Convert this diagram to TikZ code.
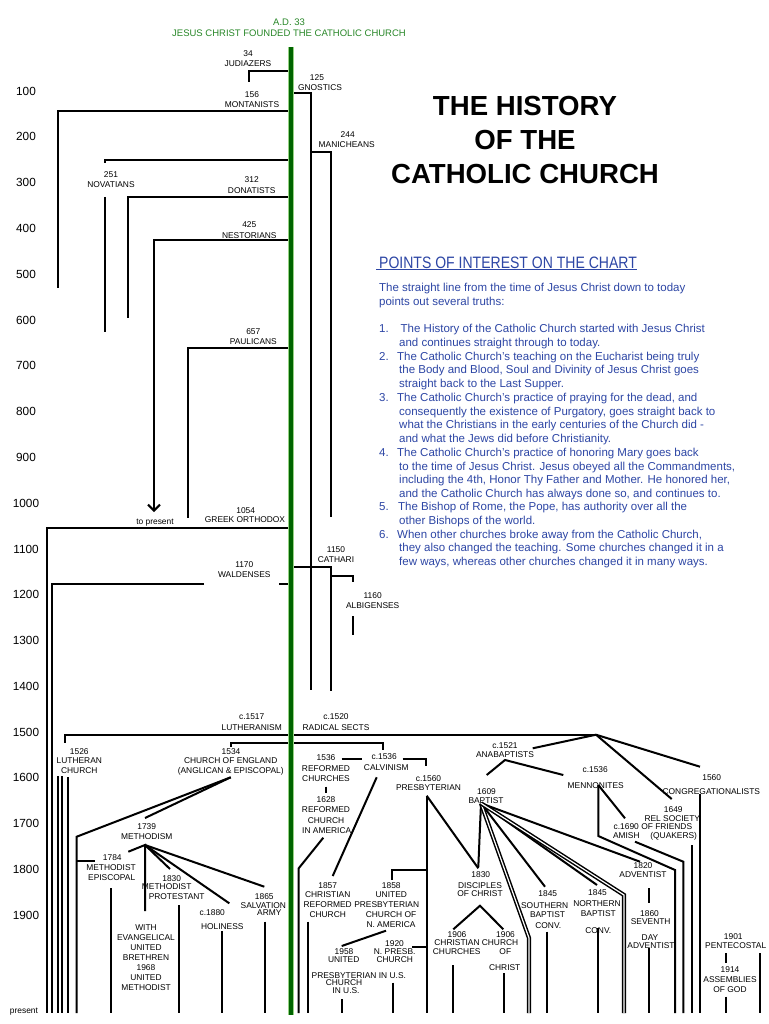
\documentclass[tikz,border=0pt]{standalone}
\usepackage{fontspec}
\setmainfont{Liberation Sans}
\usetikzlibrary{arrows.meta}
\definecolor{cgreen}{RGB}{0,100,0}
\definecolor{lgreen}{RGB}{150,210,130}
\definecolor{hgreen}{RGB}{40,135,40}
\definecolor{tblue}{RGB}{45,70,165}
\newcommand\CL[4]{\node[lb] (#1) at (#2,#3) {#4};}
\newcommand\BT[4]{\node[bt] (#1) at (#2,#3) {#4};}
\begin{document}
\begin{tikzpicture}[x=1pt,y=-1pt,
  lb/.style={font=\fontsize{8.4}{10}\selectfont, inner sep=0pt, anchor=base, yshift=-3pt},
  bt/.style={font=\fontsize{11.5}{13}\selectfont, text=tblue, inner sep=0pt, anchor=base west, yshift=-4pt},
  hd/.style={font=\fontsize{9.5}{11}\selectfont, text=hgreen, inner sep=0pt, anchor=base, yshift=-3.4pt},
  ax/.style={font=\fontsize{11.8}{13}\selectfont, inner sep=0pt, anchor=base, yshift=-4.2pt},
  ttl/.style={font=\fontsize{27.6}{30}\selectfont\bfseries, inner sep=0pt, anchor=base},
  ln/.style={line width=2pt},
  dbl/.style={double, double distance=1.2pt, line width=1.5pt}]
\useasboundingbox[fill=white] (0,0) rectangle (768,1024);

% ---------- header ----------
\node[hd] (ad) at (289,21.7) {A.D. 33};
\node[hd] (jc) at (289,32.7) {JESUS CHRIST FOUNDED THE CATHOLIC CHURCH};

% ---------- axis ----------
\foreach \yr [count=\i] in {100,200,...,1900}
  \node[ax] (yr\i) at (26,{91+45.78*(\i-1)}) {\yr};
\node[lb, yshift=-2.5pt] (present) at (24,1008) {present};

% ---------- title ----------
\node[ttl] (t1) at (525,116) {THE HISTORY};
\node[ttl] (t2) at (525,150) {OF THE};
\node[ttl] (t3) at (525,184) {CATHOLIC CHURCH};

% ---------- blue text ----------
\node[font=\fontsize{16.5}{18}\selectfont, text=tblue, inner sep=0pt, anchor=base west] (poi) at (379,268) {\scalebox{0.85}[1]{POINTS OF INTEREST ON THE CHART}};
\draw[tblue, line width=1.2pt] (376,269.8) -- (637,269.8);
\BT{b1}{379}{287}{The straight line from the time of Jesus Christ down to today}
\BT{b2}{379}{301}{points out several truths:}
\BT{n1}{379}{328}{1.}
\BT{b3}{400.5}{328}{The History of the Catholic Church started with Jesus Christ}
\BT{b4}{399}{342}{and continues straight through to today.}
\BT{n2}{379}{356}{2.}
\BT{b5}{397}{356}{The Catholic Church's teaching on the Eucharist being truly}
\BT{b6}{399}{369}{the Body and Blood, Soul and Divinity of Jesus Christ goes}
\BT{b7}{399}{383}{straight back to the Last Supper.}
\BT{n3}{379}{397}{3.}
\BT{b8}{397}{397}{The Catholic Church's practice of praying for the dead, and}
\BT{b9}{399}{411}{consequently the existence of Purgatory, goes straight back to}
\BT{b10}{399}{424}{what the Christians in the early centuries of the Church did -}
\BT{b11}{399}{438}{and what the Jews did before Christianity.}
\BT{n4}{379}{452}{4.}
\BT{b12}{397}{452}{The Catholic Church's practice of honoring Mary goes back}
\BT{b13}{399}{466}{to the time of Jesus Christ. Jesus obeyed all the Commandments,}
\BT{b14}{399}{479}{including the 4th, Honor Thy Father and Mother. He honored her,}
\BT{b15}{399}{493}{and the Catholic Church has always done so, and continues to.}
\BT{n5}{379}{506}{5.}
\BT{b16}{398}{506}{The Bishop of Rome, the Pope, has authority over all the}
\BT{b17}{399}{520}{other Bishops of the world.}
\BT{n6}{379}{534}{6.}
\BT{b18}{397}{534}{When other churches broke away from the Catholic Church,}
\BT{b19}{399}{547}{they also changed the teaching. Some churches changed it in a}
\BT{b20}{399}{561}{few ways, whereas other churches changed it in many ways.}

% ---------- early branches ----------
\begin{scope}[ln]
\draw (291,70.7) -| (249.3,82);
\draw (291,93) -| (310.7,690);
\draw (291,110.7) -| (58,288);
\draw (310.7,151.7) -| (330.7,517);
\draw (291,160) -| (105,163.5);
\draw (105,197) -- (105,332);
\draw (291,196.7) -| (128,318);
\draw[-{Straight Barb[length=6pt,width=12pt]}] (291,240) -| (154,512);
\draw (291,348) -| (188,518);
\draw (291,528) -| (47,1013);
\draw (291,567.3) -| (330.7,690.7);
\draw (330.7,575.7) -| (352.7,582.3);
\draw (352.7,616) -- (352.7,635);
\draw (204,583.7) -| (52,1013);
\draw (279,583.7) -- (291,583.7);
% reformation
\draw (596,734.7) -| (65,742.7);
\draw (230.7,747) |- (383.3,742.7) -- (383.3,750);
\draw (58.3,776) -- (58.3,1013);
\draw (61.7,776) -- (61.7,1013);
\draw (68.3,777) -- (68.3,1013);
\draw (230.7,777.3) -- (76.7,836.7) -- (76.7,1013);
\draw (230.7,777.3) -- (145,818);
\draw (76.7,861) -- (95,861);
\draw (128.3,851.7) -- (145,845) -- (145,911);
\draw (145,845) -- (170,869);
\draw (145,845) -- (229.3,903.3);
\draw (145,845) -- (264.3,886.7);
\draw (111,888.3) -- (111,1013);
\draw (179,905) -- (179,1013);
\draw (221.7,931) -- (221.7,1013);
\draw (265,921.7) -- (265,1013);
% reformed / presbyterian
\draw (341.7,759.3) -- (361.7,759.3);
\draw (402.7,759.3) -| (425.7,765.7);
\draw (326,786.7) -- (326,792.7);
\draw (323.3,837.7) -- (298.7,868.3) -- (298.7,1013);
\draw (376.7,777.3) -- (332.7,876);
\draw (307.7,921.7) -- (307.7,1013);
\draw (426.7,795.7) -- (426.7,1013);
\draw (426.7,795.7) -- (478.3,868.3);
\draw (426.7,870) -| (391.7,880);
\draw (386,930.7) -- (341.7,946);
\draw (426.7,947.3) -- (411.7,947.3);
\draw (393.3,982.7) -- (393.3,1013);
\draw (341.7,999.3) -- (341.7,1013);
% disciples
\draw (481,803.3) -- (478.3,867);
\draw (453.3,929.3) -- (480,905.7) -- (503.3,929.3);
\draw (452.7,965) -- (452.7,1013);
\draw (504,973.3) -- (504,1013);
% baptist
\draw (481,803.3) -- (545,886.7);
\draw (546.7,931.7) -- (546.7,1013);
\draw (481,803.3) -- (597,885);
\draw (481,803.3) -- (640,861.7);
\draw (597.7,928) -- (597.7,1013);
% anabaptists
\draw (596,734.7) -- (532.7,748.3);
\draw (486.7,775) -- (505,760) -- (563.3,775);
\draw (596,734.7) -- (700,766.7);
\draw (596,734.7) -- (671.7,799);
\draw (598.3,785) -- (598.3,836) -- (675,870) -- (675,1013);
\draw (598.3,785) -- (625,818.3);
\draw (635,841.7) -- (683.3,861.7) -- (683.3,1013);
\draw (692.3,845) -- (692.3,1013);
\draw (700,794.3) -- (700,1013);
\draw (649.3,888.3) -- (649.3,903.3);
\draw (649.3,948) -- (649.3,1013);
\draw (726,953.3) -- (726,962.7);
\draw (726,996.7) -- (726,1013);
\draw (760,953.3) -- (760,1013);
\end{scope}
\draw[dbl] (481,803.3) -- (529,938) -- (529,1013);
\draw[dbl] (481,803.3) -- (624,895) -- (624,1013);

% ---------- green trunk ----------
\draw[lgreen, line width=6pt] (291,47) -- (291,1015);
\draw[cgreen, line width=3.6pt] (291,47) -- (291,1015);

% ---------- labels ----------
\CL{l1a}{248}{54}{34} \CL{l1b}{248}{64}{JUDIAZERS}
\CL{l2a}{317}{78}{125} \CL{l2b}{320}{88}{GNOSTICS}
\CL{l3a}{252}{95}{156} \CL{l3b}{252}{105}{MONTANISTS}
\CL{l4a}{347.7}{135}{244} \CL{l4b}{346.7}{145}{MANICHEANS}
\CL{l5a}{111}{175}{251} \CL{l5b}{111}{185}{NOVATIANS}
\CL{l6a}{251.7}{180}{312} \CL{l6b}{251.7}{190.7}{DONATISTS}
\CL{l7a}{249.3}{225}{425} \CL{l7b}{249.3}{235.7}{NESTORIANS}
\CL{l8a}{253.3}{331.7}{657} \CL{l8b}{253.3}{341.7}{PAULICANS}
\CL{l9a}{245.7}{510}{1054} \CL{l9b}{245}{519.3}{GREEK ORTHODOX}
\node[lb, yshift=-2.5pt] (topres) at (155,519) {to present};
\CL{l10a}{336}{549}{1150} \CL{l10b}{336}{559}{CATHARI}
\CL{l11a}{244.3}{564}{1170} \CL{l11b}{244.3}{574}{WALDENSES}
\CL{l12a}{372.7}{595}{1160} \CL{l12b}{372.7}{605}{ALBIGENSES}
\CL{l13a}{251.7}{716.7}{c.1517} \CL{l13b}{251.7}{727.3}{LUTHERANISM}
\CL{l14a}{336}{716.7}{c.1520} \CL{l14b}{336}{727.3}{RADICAL SECTS}
\CL{l15a}{79.3}{751}{1526} \CL{l15b}{79.3}{760.7}{LUTHERAN} \CL{l15c}{79.3}{770}{CHURCH}
\CL{l16a}{231}{751}{1534} \CL{l16b}{230.7}{760.7}{CHURCH OF ENGLAND} \CL{l16c}{230.7}{770}{(ANGLICAN \& EPISCOPAL)}
\CL{l17a}{146.7}{826}{1739} \CL{l17b}{146.7}{836}{METHODISM}
\CL{l18a}{112.3}{857.3}{1784} \CL{l18b}{111}{867.3}{METHODIST} \CL{l18c}{111.7}{877.7}{EPISCOPAL}
\CL{l19a}{171.7}{878.3}{1830} \CL{l19b}{166.7}{886}{METHODIST} \CL{l19c}{176.7}{896}{PROTESTANT}
\CL{l20a}{264.3}{896}{1865} \CL{l20b}{263.3}{905}{SALVATION} \CL{l20c}{269.3}{912.3}{ARMY}
\CL{l21a}{212.3}{912.3}{c.1880} \CL{l21b}{222.3}{926.7}{HOLINESS}
\CL{l22a}{146}{927}{WITH} \CL{l22b}{146}{937.7}{EVANGELICAL} \CL{l22c}{146}{947.7}{UNITED}
\CL{l22d}{146}{957.7}{BRETHREN} \CL{l22e}{146}{967.7}{1968} \CL{l22f}{146}{977.7}{UNITED}
\CL{l22g}{146}{987.7}{METHODIST}
\CL{r1a}{326}{757}{1536} \CL{r1b}{326}{768}{REFORMED} \CL{r1c}{326}{778}{CHURCHES}
\CL{r2a}{384.2}{756.7}{c.1536} \CL{r2b}{386.3}{767.7}{CALVINISM}
\CL{r3a}{428.5}{778.3}{c.1560} \CL{r3b}{428.5}{787.3}{PRESBYTERIAN}
\CL{r4a}{326}{799.3}{1628} \CL{r4b}{326}{809.3}{REFORMED} \CL{r4c}{326}{820}{CHURCH} \CL{r4d}{326.7}{830.7}{IN AMERICA}
\CL{r5a}{327.7}{885.7}{1857} \CL{r5b}{327.7}{894}{CHRISTIAN} \CL{r5c}{327.7}{904}{REFORMED} \CL{r5d}{327.7}{914}{CHURCH}
\CL{r6a}{391.3}{885.7}{1858} \CL{r6b}{391.3}{894}{UNITED} \CL{r6c}{386.7}{904}{PRESBYTERIAN} \CL{r6d}{391}{914}{CHURCH OF} \CL{r6e}{391}{924}{N. AMERICA}
\CL{r7a}{344}{951}{1958} \CL{r7b}{343.7}{959}{UNITED} \CL{r7c}{358.8}{975.7}{PRESBYTERIAN IN U.S.} \CL{r7d}{344}{982.7}{CHURCH} \CL{r7e}{346}{990.7}{IN U.S.}
\CL{r8a}{394.5}{943.3}{1920} \CL{r8b}{394.7}{951.7}{N. PRESB.} \CL{r8c}{394.7}{959}{CHURCH}
\CL{r9a}{480.8}{874}{1830} \CL{r9b}{480}{885.7}{DISCIPLES} \CL{r9c}{480}{893.8}{OF CHRIST}
\CL{r10a}{457}{934.3}{1906} \CL{r10b}{457}{942.7}{CHRISTIAN} \CL{r10c}{456.7}{951.7}{CHURCHES}
\CL{r11a}{505.5}{934.3}{1906} \CL{r11b}{500}{942.7}{CHURCH} \CL{r11c}{505.3}{951.7}{OF} \CL{r11d}{504.7}{967.7}{CHRIST}
\CL{r12a}{505}{745}{c.1521} \CL{r12b}{505}{754}{ANABAPTISTS}
\CL{r13a}{486.5}{791.7}{1609} \CL{r13b}{486}{800}{BAPTIST}
\CL{r14a}{595.2}{769}{c.1536} \CL{r14b}{595.7}{785}{MENNONITES}
\CL{r15a}{711.7}{777}{1560} \CL{r15b}{711.3}{791.7}{CONGREGATIONALISTS}
\CL{r16a}{673.3}{809}{1649} \CL{r16b}{672.3}{818.3}{REL SOCIETY} \CL{r16c}{666.7}{826.7}{OF FRIENDS} \CL{r16d}{673.7}{835}{(QUAKERS)}
\CL{r17a}{626.3}{826.7}{c.1690} \CL{r17b}{626.3}{835}{AMISH}
\CL{r18a}{643}{865.7}{1820} \CL{r18b}{643}{874}{ADVENTIST}
\CL{r19a}{547.8}{893.3}{1845} \CL{r19b}{544.7}{905}{SOUTHERN} \CL{r19c}{547.5}{914.3}{BAPTIST} \CL{r19d}{548.3}{925}{CONV.}
\CL{r20a}{597.5}{892.3}{1845} \CL{r20b}{597}{903.3}{NORTHERN} \CL{r20c}{598.3}{913.3}{BAPTIST} \CL{r20d}{598.3}{930}{CONV.}
\CL{r21a}{649.5}{913.3}{1860} \CL{r21b}{650.7}{921.7}{SEVENTH} \CL{r21c}{650}{937.3}{DAY} \CL{r21d}{651}{945.7}{ADVENTIST}
\CL{r22a}{733.3}{936}{1901} \CL{r22b}{735.7}{945}{PENTECOSTAL}
\CL{r23a}{730}{969.3}{1914} \CL{r23b}{730}{979.3}{ASSEMBLIES} \CL{r23c}{730}{989.3}{OF GOD}
\end{tikzpicture}
\end{document}
